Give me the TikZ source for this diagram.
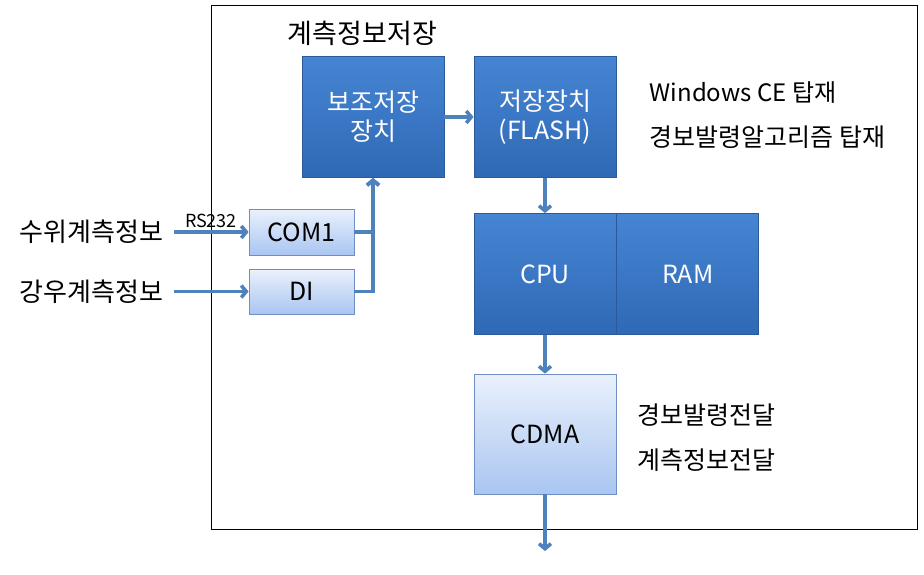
\documentclass[tikz,border=0pt]{standalone}
\usepackage{fontspec}
\setmainfont{Noto Sans CJK KR}
\usetikzlibrary{positioning,arrows.meta}
\definecolor{myDarkTop}{HTML}{4685d3}
\definecolor{myDarkBot}{HTML}{2f69b5}
\definecolor{myEdge}{HTML}{2a5a9a}
\definecolor{myLightTop}{HTML}{eaf1fc}
\definecolor{myLightBot}{HTML}{a9c5f1}
\definecolor{myLightEdge}{HTML}{6f8fc4}
\definecolor{myArrow}{HTML}{4f81bd}

\begin{document}
\begin{tikzpicture}[x=1pt, y=-1pt, >={Straight Barb[length=5pt,width=12pt]}, line width=3.6pt, ->, myArrow]

  \tikzstyle{D}=[rectangle, draw=myEdge, line width=0.8pt, top color=myDarkTop, bottom color=myDarkBot, text=white, minimum width=142pt, minimum height=121pt, inner sep=2pt, align=center, font=\fontsize{25}{29}\selectfont]
  \tikzstyle{L}=[rectangle, draw=myLightEdge, line width=0.8pt, top color=myLightTop, bottom color=myLightBot, text=black, inner sep=2pt, align=center, font=\fontsize{25}{29}\selectfont]
  \tikzstyle{T}=[text=black, inner sep=0pt, font=\fontsize{25}{29}\selectfont]

  \useasboundingbox (0,0) rectangle (924,574);
  \draw [-, black, line width=0.9pt] (211,5) rectangle (917,529);

  \node[T, anchor=west, font=\fontsize{27}{31}\selectfont] at (286,33) (storeinfo) {계측정보저장};

  \node[D] at (373,117) (aux) {보조저장\\장치};
  \node[D] at (545,117) (flash) {저장장치\\(FLASH)};
  \node[D] at (545,274) (cpu) {CPU};
  \node[D, right=0pt of cpu] (ram) {RAM};
  \node[L, minimum width=142pt, minimum height=120pt] at (545,434) (cdma) {CDMA};

  \node[L, minimum width=105pt, minimum height=46pt] at (301.5,232) (com) {COM1};
  \node[L, minimum width=105pt, minimum height=45pt] at (301.5,291.5) (di) {DI};

  \node[T, anchor=east, font=\fontsize{26}{30}\selectfont] at (165,232) (water) {수위계측정보};
  \node[T, anchor=east, font=\fontsize{26}{30}\selectfont] at (165,291.5) (rain) {강우계측정보};
  \node[T, font=\fontsize{18}{20}\selectfont] at (211,221) (rs) {RS232};

  \node[T, anchor=west, font=\fontsize{24}{28}\selectfont] at (648,93) (wince) {Windows CE 탑재};
  \node[T, anchor=west] at (648,137) (algo) {경보발령알고리즘 탑재};
  \node[T, anchor=west] at (636,415) (alarm) {경보발령전달};
  \node[T, anchor=west] at (636,460) (sendinfo) {계측정보전달};

  \coordinate (out) at (545,551);

  \draw [shorten <=9pt] (water.east) to (com.west);
  \draw [shorten <=9pt] (rain.east) to (di.west);
  \draw [] (com.east) -| (aux.south);
  \draw [] (di.east) -| (aux.south);
  \draw [] (aux.east) to (flash.west);
  \draw [] (flash.south) to (cpu.north);
  \draw [] (cpu.south) to (cdma.north);
  \draw [] (cdma.south) to (out);

\end{tikzpicture}
\end{document}
